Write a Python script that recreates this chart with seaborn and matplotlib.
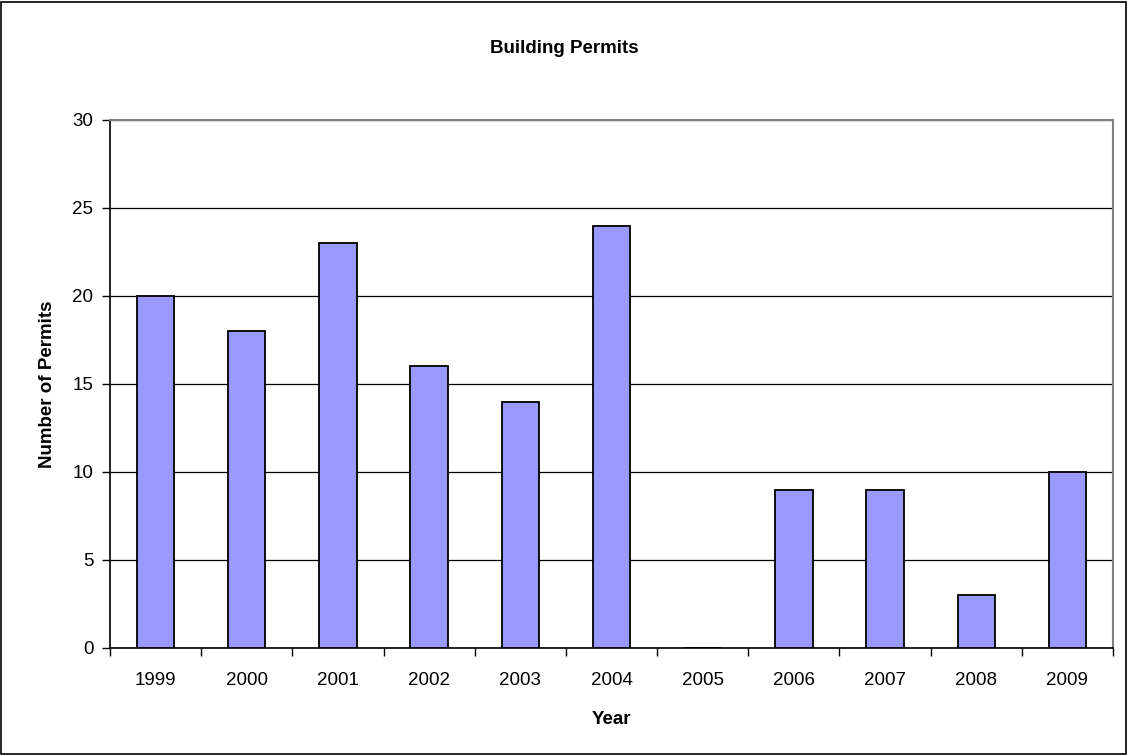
import matplotlib
matplotlib.use("Agg")
import matplotlib.pyplot as plt
import seaborn as sns
import pandas as pd
from matplotlib.patches import Rectangle

# --- DATA ---
years = ["1999", "2000", "2001", "2002", "2003", "2004", "2005", "2006", "2007", "2008", "2009"]
permits = [20, 18, 23, 16, 14, 24, 0, 9, 9, 3, 10]

df = pd.DataFrame({"Year": years, "Permits": permits})

sns.set_style("white")
plt.rcParams["font.family"] = ["Liberation Sans", "DejaVu Sans"]
plt.rcParams["text.color"] = "black"
plt.rcParams["axes.labelcolor"] = "black"
plt.rcParams["xtick.color"] = "black"
plt.rcParams["ytick.color"] = "black"

fig = plt.figure(figsize=(11.28, 7.56), dpi=100)
ax = fig.add_axes([0.0975, 0.1429, 0.8892, 0.6984])

sns.barplot(data=df, x="Year", y="Permits", color="#9999FF", saturation=1,
            width=0.41, edgecolor="black", linewidth=1.3, ax=ax, zorder=3)

ax.set_ylim(0, 30)
ax.set_yticks(range(0, 31, 5))
ax.set_xlim(-0.5, len(years) - 0.5)
ax.yaxis.grid(True, color="black", linewidth=0.9, zorder=0)
ax.set_axisbelow(True)

for side in ["top", "right"]:
    ax.spines[side].set_color("#808080")
    ax.spines[side].set_linewidth(1.5)
for side in ["left", "bottom"]:
    ax.spines[side].set_color("black")
    ax.spines[side].set_linewidth(1.2)

# category boundary ticks on x axis
ax.set_xticks([i + 0.5 for i in range(-1, len(years))], minor=True)
ax.tick_params(axis="x", which="minor", bottom=True, length=6, width=1.0,
               color="black", direction="out")
ax.tick_params(axis="x", which="major", bottom=True, length=0, labelsize=13.5, pad=17)
ax.tick_params(axis="y", left=True, length=6, width=1.0, color="black",
               direction="out", labelsize=13.5, pad=6)

ax.set_xlabel("Year", fontsize=13.5, fontweight="bold", labelpad=16)
ax.set_ylabel("Number of Permits", fontsize=13.5, fontweight="bold", labelpad=12)
fig.text(0.5, 0.936, "Building Permits", ha="center", va="center",
         fontsize=13.5, fontweight="bold")

# outer chart border
fig.patches.append(Rectangle((0.001, 0.002), 0.997, 0.996, transform=fig.transFigure,
                             fill=False, edgecolor="black", linewidth=1.2))

fig.savefig("out.png", dpi=100)
